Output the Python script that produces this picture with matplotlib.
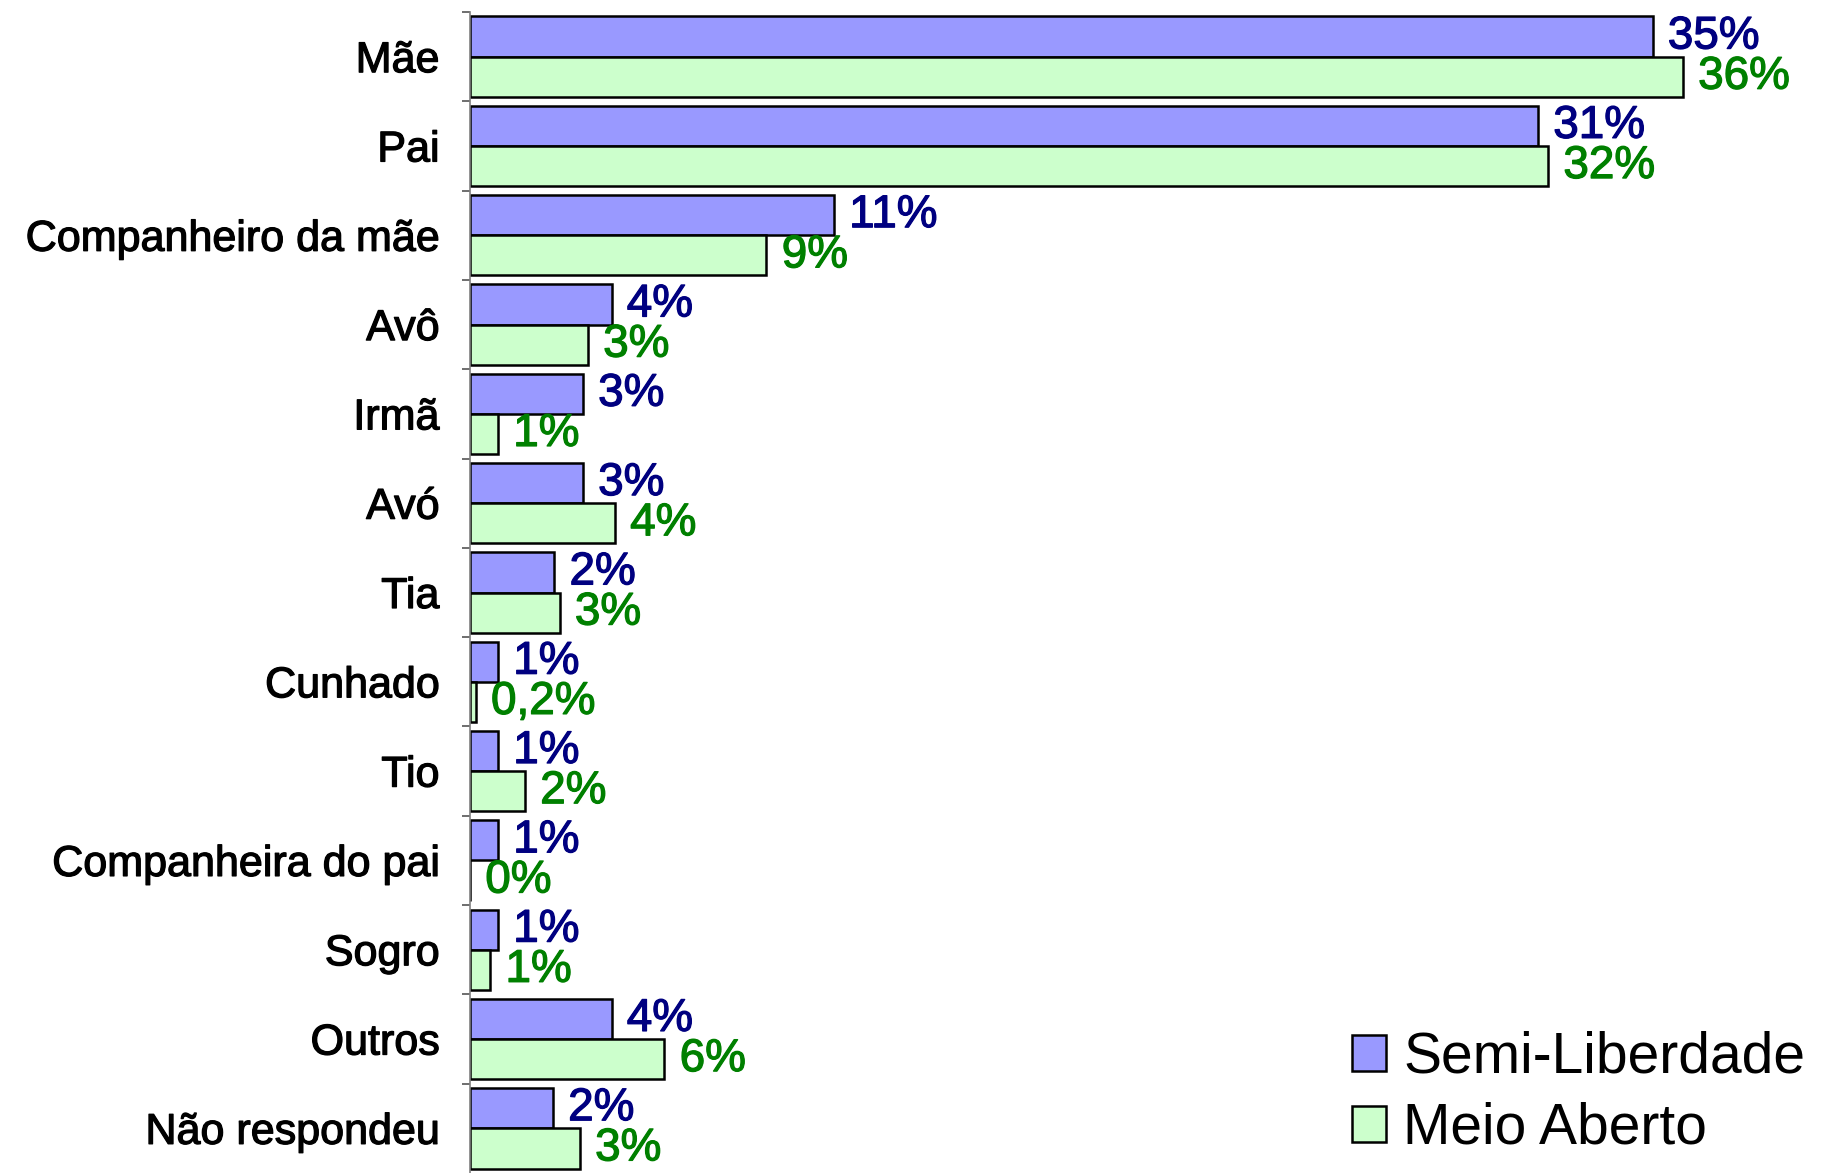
import matplotlib.pyplot as plt
import matplotlib.patheffects as pe
import numpy as np

plt.rcParams['font.family'] = ['Liberation Sans', 'DejaVu Sans']

# data
categories = ['Mãe', 'Pai', 'Companheiro da mãe', 'Avô', 'Irmã', 'Avó', 'Tia',
              'Cunhado', 'Tio', 'Companheira do pai', 'Sogro', 'Outros', 'Não respondeu']
semi = [35.1, 31.7, 10.8, 4.2, 3.35, 3.35, 2.5, 0.83, 0.83, 0.83, 0.83, 4.2, 2.46]
meio = [36.0, 32.0, 8.8, 3.5, 0.83, 4.3, 2.66, 0.17, 1.63, 0.0, 0.6, 5.77, 3.26]
semi_labels = ['35%', '31%', '11%', '4%', '3%', '3%', '2%', '1%', '1%', '1%', '1%', '4%', '2%']
meio_labels = ['36%', '32%', '9%', '3%', '1%', '4%', '3%', '0,2%', '2%', '0%', '1%', '6%', '3%']

fig = plt.figure(figsize=(18.21, 11.73), dpi=100)
ax = fig.add_axes([470 / 1821, 0.0, 1 - 470 / 1821, 1 - 12 / 1173])

y = np.arange(len(categories))
h = 0.45
b1 = ax.barh(y - h / 2, semi, height=h, color='#9999FF', edgecolor='black',
             linewidth=1.8, label='Semi-Liberdade')
b2 = ax.barh(y + h / 2, meio, height=h, color='#CCFFCC', edgecolor='black',
             linewidth=1.8, label='Meio Aberto')

# text in the original is slightly heavier than regular weight
def thick(c):
    return [pe.withStroke(linewidth=0.9, foreground=c)]

for yy, v, t in zip(y, semi, semi_labels):
    ax.annotate(t, (v, yy - h / 2), xytext=(11, 0), textcoords='offset points',
                va='center', ha='left', fontsize=33, color='#000080',
                path_effects=thick('#000080'))
for yy, v, t in zip(y, meio, meio_labels):
    ax.annotate(t, (v, yy + h / 2), xytext=(11, 0), textcoords='offset points',
                va='center', ha='left', fontsize=33, color='#008000',
                path_effects=thick('#008000'))

ax.set_xlim(0, 40.1)
ax.set_ylim(len(categories) - 0.5, -0.5)

# boundary ticks (major) and category labels (minor)
ax.set_yticks(np.arange(len(categories)) - 0.5)
ax.set_yticklabels([])
ax.tick_params(axis='y', which='major', length=6, width=1.2, color='#555555')
ax.set_yticks(y, minor=True)
ax.set_yticklabels(categories, minor=True, fontsize=31)
for lab in ax.get_yticklabels(minor=True):
    lab.set_path_effects(thick('black'))
ax.tick_params(axis='y', which='minor', length=0, pad=22)
ax.set_xticks([])

for s in ['top', 'right', 'bottom']:
    ax.spines[s].set_visible(False)
ax.spines['left'].set_color('#808080')
ax.spines['left'].set_linewidth(1.2)

fig.legend(handles=[b1, b2], loc='lower left',
           bbox_to_anchor=(1352 / 1821, 17 / 1173), frameon=False,
           fontsize=41, handlelength=0.6, handleheight=0.6,
           handletextpad=0.3, labelspacing=0.3, borderpad=0, borderaxespad=0)

fig.savefig('out.png', dpi=100)
